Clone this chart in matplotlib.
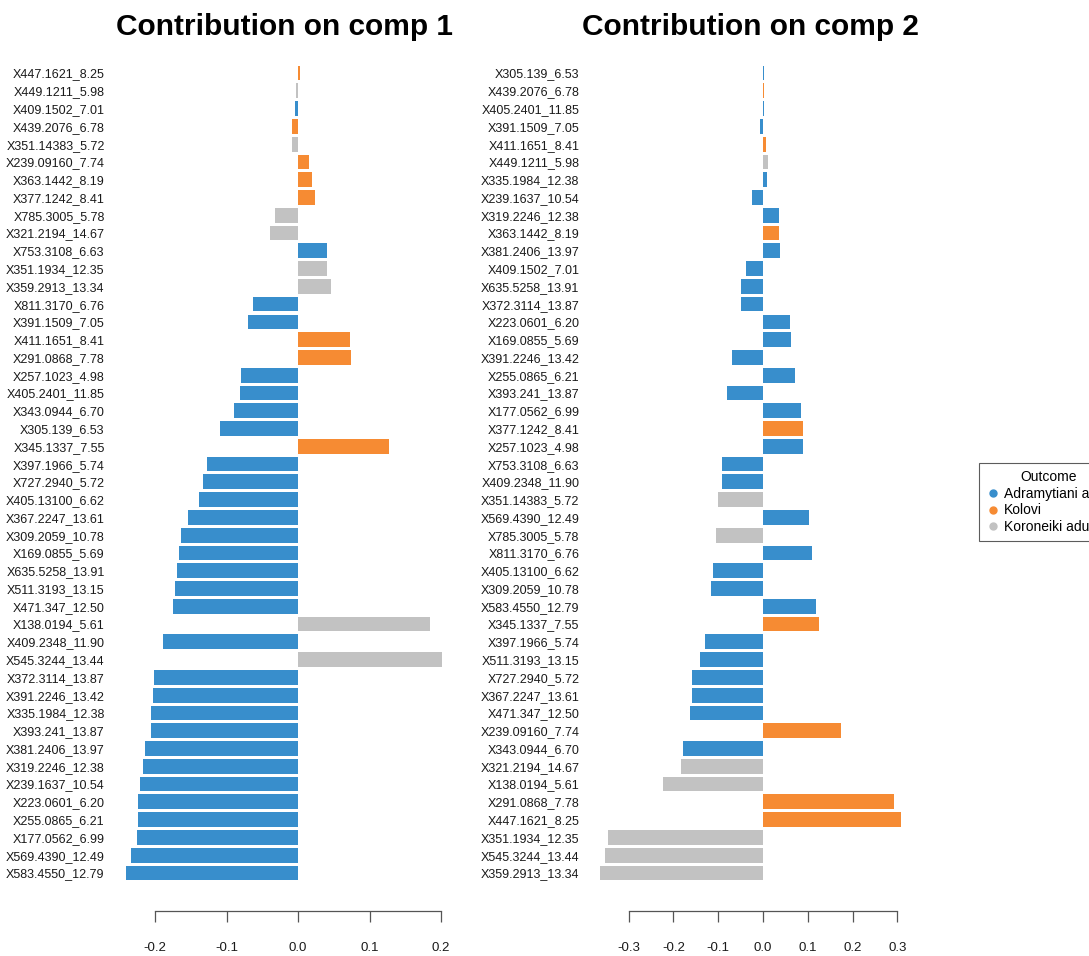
"""Loadings contribution bar charts for the first two components."""

import matplotlib

matplotlib.use("Agg")

import matplotlib.pyplot as plt
from matplotlib.lines import Line2D

plt.rcParams["font.family"] = ["Liberation Sans", "DejaVu Sans"]

BLUE = "#388ECC"
ORANGE = "#F68B33"
GRAY = "#C2C2C2"

GROUPS = ["Adramytiani adult", "Kolovi", "Koroneiki adult"]
GROUP_COLORS = {"Adramytiani adult": BLUE, "Kolovi": ORANGE, "Koroneiki adult": GRAY}

# component 1, listed top to bottom
comp1_features = [
    "X447.1621_8.25", "X449.1211_5.98", "X409.1502_7.01", "X439.2076_6.78",
    "X351.14383_5.72", "X239.09160_7.74", "X363.1442_8.19", "X377.1242_8.41",
    "X785.3005_5.78", "X321.2194_14.67", "X753.3108_6.63", "X351.1934_12.35",
    "X359.2913_13.34", "X811.3170_6.76", "X391.1509_7.05", "X411.1651_8.41",
    "X291.0868_7.78", "X257.1023_4.98", "X405.2401_11.85", "X343.0944_6.70",
    "X305.139_6.53", "X345.1337_7.55", "X397.1966_5.74", "X727.2940_5.72",
    "X405.13100_6.62", "X367.2247_13.61", "X309.2059_10.78", "X169.0855_5.69",
    "X635.5258_13.91", "X511.3193_13.15", "X471.347_12.50", "X138.0194_5.61",
    "X409.2348_11.90", "X545.3244_13.44", "X372.3114_13.87", "X391.2246_13.42",
    "X335.1984_12.38", "X393.241_13.87", "X381.2406_13.97", "X319.2246_12.38",
    "X239.1637_10.54", "X223.0601_6.20", "X255.0865_6.21", "X177.0562_6.99",
    "X569.4390_12.49", "X583.4550_12.79",
]
comp1_loadings = [
    0.003, -0.003, -0.004, -0.0084, -0.0084, 0.0154, 0.019, 0.0238,
    -0.0317, -0.0387, 0.040, 0.041, 0.0466, -0.0625, -0.070, 0.0723,
    0.0741, -0.0797, -0.0816, -0.089, -0.1096, 0.1268, -0.128, -0.1324,
    -0.138, -0.154, -0.1636, -0.1664, -0.169, -0.172, -0.175, 0.185,
    -0.189, 0.2018, -0.2018, -0.2028, -0.2055, -0.2056, -0.214, -0.2168,
    -0.2214, -0.2238, -0.224, -0.2247, -0.234, -0.241,
]
comp1_outcome = [
    "Kolovi", "Koroneiki adult", "Adramytiani adult", "Kolovi",
    "Koroneiki adult", "Kolovi", "Kolovi", "Kolovi",
    "Koroneiki adult", "Koroneiki adult", "Adramytiani adult", "Koroneiki adult",
    "Koroneiki adult", "Adramytiani adult", "Adramytiani adult", "Kolovi",
    "Kolovi", "Adramytiani adult", "Adramytiani adult", "Adramytiani adult",
    "Adramytiani adult", "Kolovi", "Adramytiani adult", "Adramytiani adult",
    "Adramytiani adult", "Adramytiani adult", "Adramytiani adult", "Adramytiani adult",
    "Adramytiani adult", "Adramytiani adult", "Adramytiani adult", "Koroneiki adult",
    "Adramytiani adult", "Koroneiki adult", "Adramytiani adult", "Adramytiani adult",
    "Adramytiani adult", "Adramytiani adult", "Adramytiani adult", "Adramytiani adult",
    "Adramytiani adult", "Adramytiani adult", "Adramytiani adult", "Adramytiani adult",
    "Adramytiani adult", "Adramytiani adult",
]

# component 2, listed top to bottom
comp2_features = [
    "X305.139_6.53", "X439.2076_6.78", "X405.2401_11.85", "X391.1509_7.05",
    "X411.1651_8.41", "X449.1211_5.98", "X335.1984_12.38", "X239.1637_10.54",
    "X319.2246_12.38", "X363.1442_8.19", "X381.2406_13.97", "X409.1502_7.01",
    "X635.5258_13.91", "X372.3114_13.87", "X223.0601_6.20", "X169.0855_5.69",
    "X391.2246_13.42", "X255.0865_6.21", "X393.241_13.87", "X177.0562_6.99",
    "X377.1242_8.41", "X257.1023_4.98", "X753.3108_6.63", "X409.2348_11.90",
    "X351.14383_5.72", "X569.4390_12.49", "X785.3005_5.78", "X811.3170_6.76",
    "X405.13100_6.62", "X309.2059_10.78", "X583.4550_12.79", "X345.1337_7.55",
    "X397.1966_5.74", "X511.3193_13.15", "X727.2940_5.72", "X367.2247_13.61",
    "X471.347_12.50", "X239.09160_7.74", "X343.0944_6.70", "X321.2194_14.67",
    "X138.0194_5.61", "X291.0868_7.78", "X447.1621_8.25", "X351.1934_12.35",
    "X545.3244_13.44", "X359.2913_13.34",
]
comp2_loadings = [
    0.0015, 0.002, 0.003, -0.006, 0.0074, 0.0104, 0.0097, -0.0246,
    0.035, 0.0365, 0.0372, -0.0387, -0.049, -0.0492, 0.061, 0.0625,
    -0.069, 0.0707, -0.0796, 0.0848, 0.0893, 0.089, -0.0908, -0.0909,
    -0.101, 0.1027, -0.1056, 0.110, -0.111, -0.116, 0.118, 0.1257,
    -0.130, -0.1414, -0.159, -0.1592, -0.162, 0.175, -0.1786, -0.1838,
    -0.224, 0.2925, 0.307, -0.345, -0.353, -0.3646,
]
comp2_outcome = [
    "Adramytiani adult", "Kolovi", "Adramytiani adult", "Adramytiani adult",
    "Kolovi", "Koroneiki adult", "Adramytiani adult", "Adramytiani adult",
    "Adramytiani adult", "Kolovi", "Adramytiani adult", "Adramytiani adult",
    "Adramytiani adult", "Adramytiani adult", "Adramytiani adult", "Adramytiani adult",
    "Adramytiani adult", "Adramytiani adult", "Adramytiani adult", "Adramytiani adult",
    "Kolovi", "Adramytiani adult", "Adramytiani adult", "Adramytiani adult",
    "Koroneiki adult", "Adramytiani adult", "Koroneiki adult", "Adramytiani adult",
    "Adramytiani adult", "Adramytiani adult", "Adramytiani adult", "Kolovi",
    "Adramytiani adult", "Adramytiani adult", "Adramytiani adult", "Adramytiani adult",
    "Adramytiani adult", "Kolovi", "Adramytiani adult", "Koroneiki adult",
    "Koroneiki adult", "Kolovi", "Kolovi", "Koroneiki adult",
    "Koroneiki adult", "Koroneiki adult",
]

comp1_ticks = [-0.2, -0.1, 0.0, 0.1, 0.2]
comp2_ticks = [-0.3, -0.2, -0.1, 0.0, 0.1, 0.2, 0.3]


def draw_loadings(ax, features, loadings, outcome, ticks, title):
    """Horizontal loading bars, base-R style axis with no box."""
    rows = list(range(len(features)))
    colors = [GROUP_COLORS[g] for g in outcome]
    ax.barh(rows, loadings, height=0.83, color=colors, linewidth=0)

    lo, hi = min(loadings), max(loadings)
    pad = 0.04 * (hi - lo)
    ax.set_xlim(lo - pad, hi + pad)
    ax.set_ylim(len(features) - 1 + 2.14, -2.14)

    ax.set_yticks(rows, features, fontsize=9, color="#1a1a1a")
    ax.tick_params(axis="y", length=0, pad=6)
    ax.set_xticks(ticks, [f"{t:.1f}" for t in ticks], fontsize=9.5, color="#1a1a1a")
    ax.tick_params(axis="x", length=8, width=0.9, color="#555555", pad=14)

    for side in ("top", "right", "left"):
        ax.spines[side].set_visible(False)
    ax.spines["bottom"].set_bounds(ticks[0], ticks[-1])
    ax.spines["bottom"].set_color("#555555")
    ax.spines["bottom"].set_linewidth(0.9)

    # title sits right on the top edge of the plot region
    ax.text(0.5, 1.0, title, transform=ax.transAxes, ha="center", va="baseline",
            fontsize=21.5, fontweight="bold")


fig = plt.figure(figsize=(10.89, 9.56), dpi=100)
ax1 = fig.add_axes([0.1038, 0.0471, 0.314, 0.9163])
ax2 = fig.add_axes([0.5396, 0.0471, 0.2984, 0.9163])

draw_loadings(ax1, comp1_features, comp1_loadings, comp1_outcome, comp1_ticks,
              "Contribution on comp 1")
draw_loadings(ax2, comp2_features, comp2_loadings, comp2_outcome, comp2_ticks,
              "Contribution on comp 2")

handles = [
    Line2D([], [], linestyle="none", marker="o", markersize=5,
           markerfacecolor=GROUP_COLORS[g], markeredgecolor=GROUP_COLORS[g])
    for g in GROUPS
]
legend = fig.legend(
    handles, GROUPS, title="Outcome", loc="upper left",
    bbox_to_anchor=(979 / 1089, 1 - 463 / 956),
    fontsize=10, title_fontsize=10, frameon=True, fancybox=False,
    labelspacing=0.2, handletextpad=0.3, handlelength=1.0,
    borderpad=0.5, borderaxespad=0,
)
legend.get_frame().set_edgecolor("#333333")
legend.get_frame().set_linewidth(0.8)

fig.savefig("out.png", dpi=100)
